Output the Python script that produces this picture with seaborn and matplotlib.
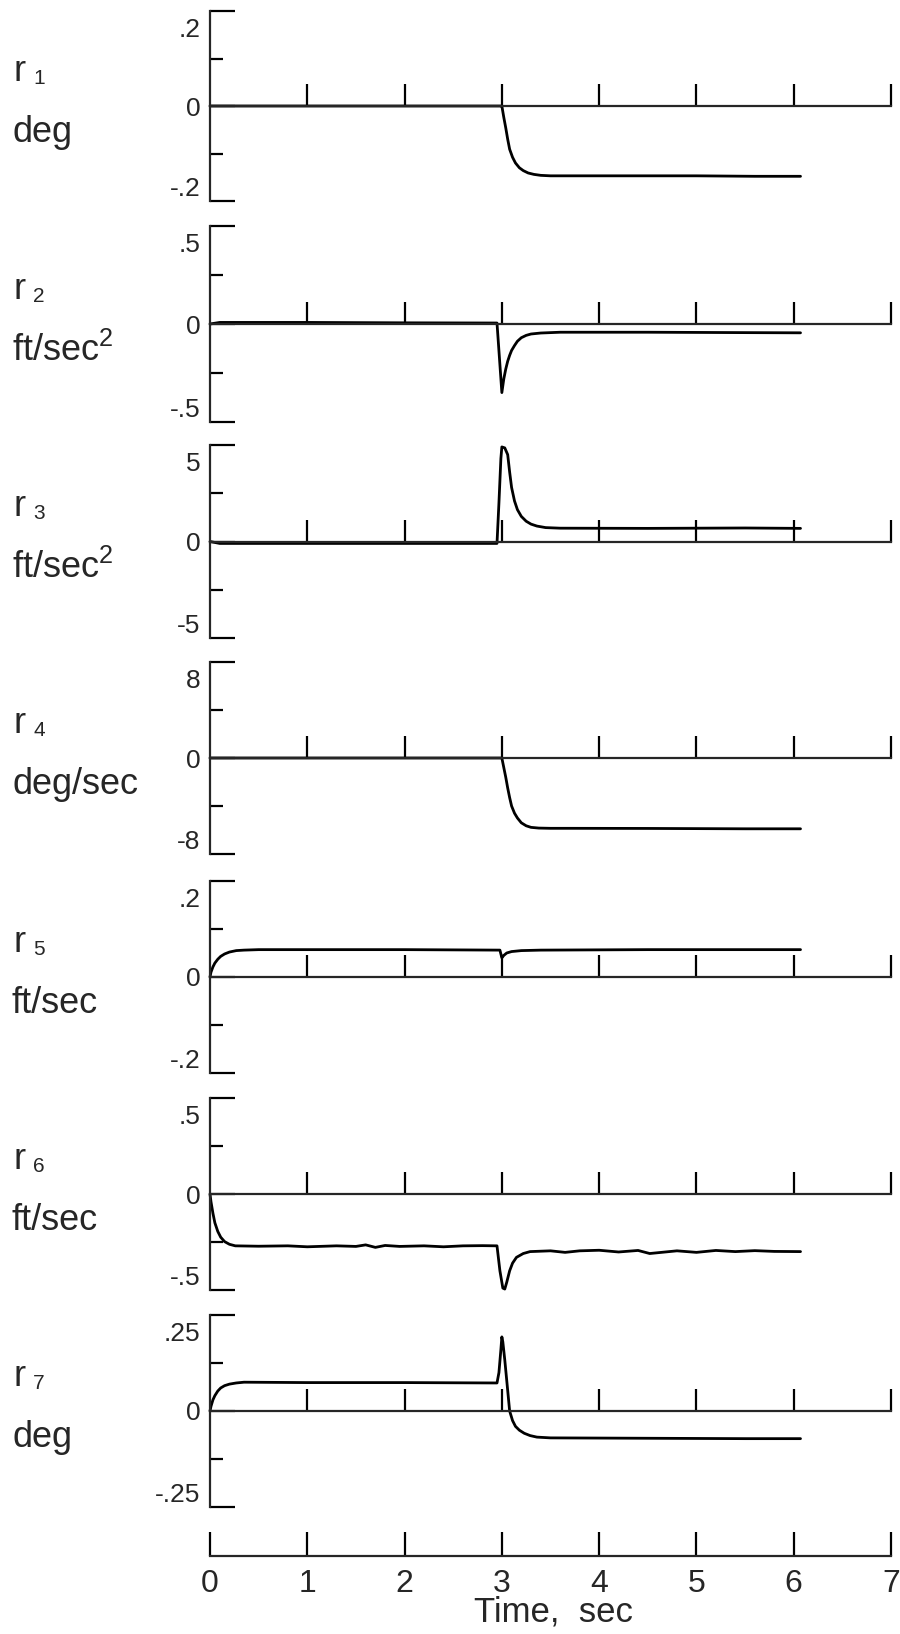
import numpy as np
import pandas as pd
import matplotlib
matplotlib.use("Agg")
import matplotlib.pyplot as plt
import matplotlib.transforms as mtransforms
import seaborn as sns

sns.set_style("ticks")
plt.rcParams['font.family'] = ['Liberation Sans', 'DejaVu Sans']
plt.rcParams['mathtext.fontset'] = 'custom'
plt.rcParams['mathtext.rm'] = 'Liberation Sans'
plt.rcParams['mathtext.default'] = 'regular'

# ---- data ----
t1 = [0, 1, 2, 2.99, 3.0, 3.01, 3.02, 3.04, 3.06, 3.08, 3.11, 3.14, 3.18, 3.22, 3.27, 3.33, 3.4, 3.5,
      3.7, 4.2, 5.0, 5.6, 6.07]
r1 = [0, 0, 0, 0, 0, -0.012, -0.024, -0.046, -0.07, -0.091, -0.108, -0.12, -0.13, -0.136, -0.141,
      -0.144, -0.146, -0.147, -0.147, -0.147, -0.147, -0.148, -0.148]

t2 = [0, 0.1, 1, 2, 2.95, 3.0, 3.02, 3.04, 3.06, 3.08, 3.1, 3.13, 3.16, 3.2, 3.25, 3.3, 3.4, 3.6,
      4.5, 5.5, 6.07]
r2 = [0.0, 0.008, 0.008, 0.006, 0.005, -0.35, -0.28, -0.23, -0.19, -0.16, -0.135, -0.11, -0.088,
      -0.07, -0.058, -0.051, -0.046, -0.042, -0.042, -0.044, -0.045]

t3 = [0, 0.1, 1, 2, 2.95, 2.97, 2.99, 3.0, 3.03, 3.06, 3.08, 3.1, 3.13, 3.16, 3.2, 3.25, 3.3, 3.36,
      3.45, 3.6, 4.5, 5.5, 6.07]
r3 = [0, -0.1, -0.1, -0.1, -0.1, 2.0, 4.3, 4.9, 4.85, 4.5, 3.6, 2.8, 2.1, 1.65, 1.3, 1.05, 0.9, 0.8,
      0.72, 0.69, 0.68, 0.7, 0.68]

t4 = [0, 1, 2, 3.0, 3.02, 3.04, 3.06, 3.08, 3.1, 3.13, 3.16, 3.2, 3.25, 3.3, 3.38, 3.5, 3.7, 4.5,
      5.5, 6.07]
r4 = [0, 0, 0, 0, -0.8, -1.6, -2.5, -3.3, -4.0, -4.6, -5.0, -5.4, -5.65, -5.78, -5.84, -5.86, -5.86,
      -5.87, -5.9, -5.9]

t5 = [0, 0.01, 0.03, 0.05, 0.08, 0.11, 0.15, 0.2, 0.27, 0.35, 0.5, 1, 2, 2.98, 3.0, 3.02, 3.05,
      3.1, 3.2, 3.4, 4.5, 5.5, 6.07]
r5 = [0, 0.01, 0.021, 0.029, 0.037, 0.043, 0.048, 0.052, 0.055, 0.056, 0.057, 0.057, 0.057, 0.056,
      0.04, 0.045, 0.05, 0.053, 0.055, 0.056, 0.057, 0.057, 0.057]

t6 = [0, 0.01, 0.03, 0.05, 0.08, 0.11, 0.15, 0.2, 0.26, 0.5, 0.8, 1.0, 1.3, 1.5, 1.6, 1.7, 1.8, 1.95,
      2.2, 2.4, 2.6, 2.8, 2.95,
      2.98, 3.01, 3.03, 3.05, 3.08, 3.11, 3.15, 3.22, 3.29, 3.5, 3.65, 3.8, 4.0, 4.2, 4.4, 4.52, 4.66,
      4.8, 5.0, 5.2, 5.4, 5.6, 5.8, 6.07]
r6 = [0, -0.04, -0.1, -0.15, -0.195, -0.225, -0.248, -0.262, -0.27, -0.272, -0.27, -0.275, -0.27,
      -0.273, -0.265, -0.278, -0.268, -0.273, -0.27, -0.275, -0.27, -0.269, -0.27,
      -0.4, -0.49, -0.495, -0.46, -0.40, -0.36, -0.33, -0.31, -0.30, -0.296, -0.304, -0.296, -0.293,
      -0.302, -0.294, -0.31, -0.303, -0.296, -0.304, -0.294, -0.3, -0.295, -0.299, -0.3]

t7 = [0, 0.01, 0.03, 0.05, 0.08, 0.11, 0.15, 0.2, 0.27, 0.35, 1, 2, 2.95, 2.97, 2.99, 3.0, 3.01,
      3.03, 3.05, 3.08, 3.11, 3.14, 3.18, 3.23, 3.29, 3.36, 3.5, 4.5, 5.5, 6.07]
r7 = [0, 0.012, 0.029, 0.04, 0.052, 0.06, 0.066, 0.07, 0.073, 0.075, 0.074, 0.074, 0.073, 0.1, 0.16,
      0.193, 0.18, 0.133, 0.08, 0.0, -0.025, -0.04, -0.05, -0.058, -0.064, -0.068, -0.07, -0.071,
      -0.072, -0.072]

times = [t1, t2, t3, t4, t5, t6, t7]
series = [r1, r2, r3, r4, r5, r6, r7]
names = ["1", "2", "3", "4", "5", "6", "7"]
units = ["deg", "ft/sec$^2$", "ft/sec$^2$", "deg/sec", "ft/sec", "ft/sec", "deg"]
limits = [0.2, 0.5, 5, 8, 0.2, 0.5, 0.25]
top_labels = [".2", ".5", "5", "8", ".2", ".5", ".25"]
bottom_labels = ["-.2", "-.5", "-5", "-8", "-.2", "-.5", "-.25"]
time_ticks = [0, 1, 2, 3, 4, 5, 6, 7]

# panel extents in pixels (top, bottom)
W, H = 900, 1634
panels_px = [(11, 201), (226, 422), (445, 638), (662, 854), (881, 1073), (1098, 1290), (1315, 1507)]
left_px, right_px = 210, 891

fig = plt.figure(figsize=(W / 100, H / 100), dpi=100)
fig.patch.set_facecolor("white")

lw = 1.6
for i, (top, bot) in enumerate(panels_px):
    ax = fig.add_axes([left_px / W, 1 - bot / H, (right_px - left_px) / W, (bot - top) / H])
    ax.set_facecolor("none")
    df = pd.DataFrame({"t": times[i], "v": series[i]})
    sns.lineplot(data=df, x="t", y="v", ax=ax, color="black", lw=2.0,
                 estimator=None, sort=False, clip_on=False)
    lim = limits[i]
    ax.set_xlim(0, 7)
    ax.set_ylim(-lim, lim)
    ax.set_xlabel("")
    ax.set_ylabel("")

    for s in ["top", "right"]:
        ax.spines[s].set_visible(False)
    ax.spines["left"].set_linewidth(lw)
    ax.spines["bottom"].set_linewidth(lw)
    ax.spines["bottom"].set_position(("data", 0))

    ax.set_xticks(time_ticks[1:])
    ax.tick_params(axis="x", direction="in", length=16, width=lw, labelbottom=False, color="black")

    ax.set_yticks([-lim, 0, lim])
    ax.set_yticklabels([bottom_labels[i], "0", top_labels[i]])
    ax.set_yticks([-lim / 2, lim / 2], minor=True)
    ax.tick_params(axis="y", which="major", direction="in", length=18, width=lw,
                   labelsize=19, pad=7, color="black")
    ax.tick_params(axis="y", which="minor", direction="in", length=9, width=lw, color="black")

    ticks = ax.yaxis.get_major_ticks()
    ticks[0].label1.set_va("bottom")
    ticks[2].label1.set_va("top")
    shift = mtransforms.ScaledTranslation(0, -7 / 100, fig.dpi_scale_trans)
    ticks[2].label1.set_transform(ticks[2].label1.get_transform() + shift)

    tr = mtransforms.blended_transform_factory(fig.transFigure, ax.transAxes)
    h = bot - top
    ax.text(13 / W, 0.63, "r", transform=tr, fontsize=26, va="baseline", ha="left")
    ax.text(33 / W, 0.63 - 3 / h, names[i], transform=tr, fontsize=15, va="baseline", ha="left")
    ax.text(12 / W, 0.31, units[i], transform=tr, fontsize=26, va="baseline", ha="left")

# shared time axis at the bottom
axt = fig.add_axes([left_px / W, 1 - 1556 / H, (right_px - left_px) / W, 30 / H])
axt.set_facecolor("none")
axt.set_xlim(0, 7)
axt.set_yticks([])
for s in ["top", "right", "left"]:
    axt.spines[s].set_visible(False)
axt.spines["bottom"].set_linewidth(lw)
axt.set_xticks(time_ticks)
axt.set_xticklabels([str(v) for v in time_ticks])
axt.tick_params(axis="x", direction="in", length=17, width=lw, labelsize=23, pad=9, color="black")
fig.text(553 / W, 1 - 1612 / H, "Time,  sec", fontsize=25, ha="center", va="center")

fig.savefig("out.png", dpi=100, facecolor="white")
